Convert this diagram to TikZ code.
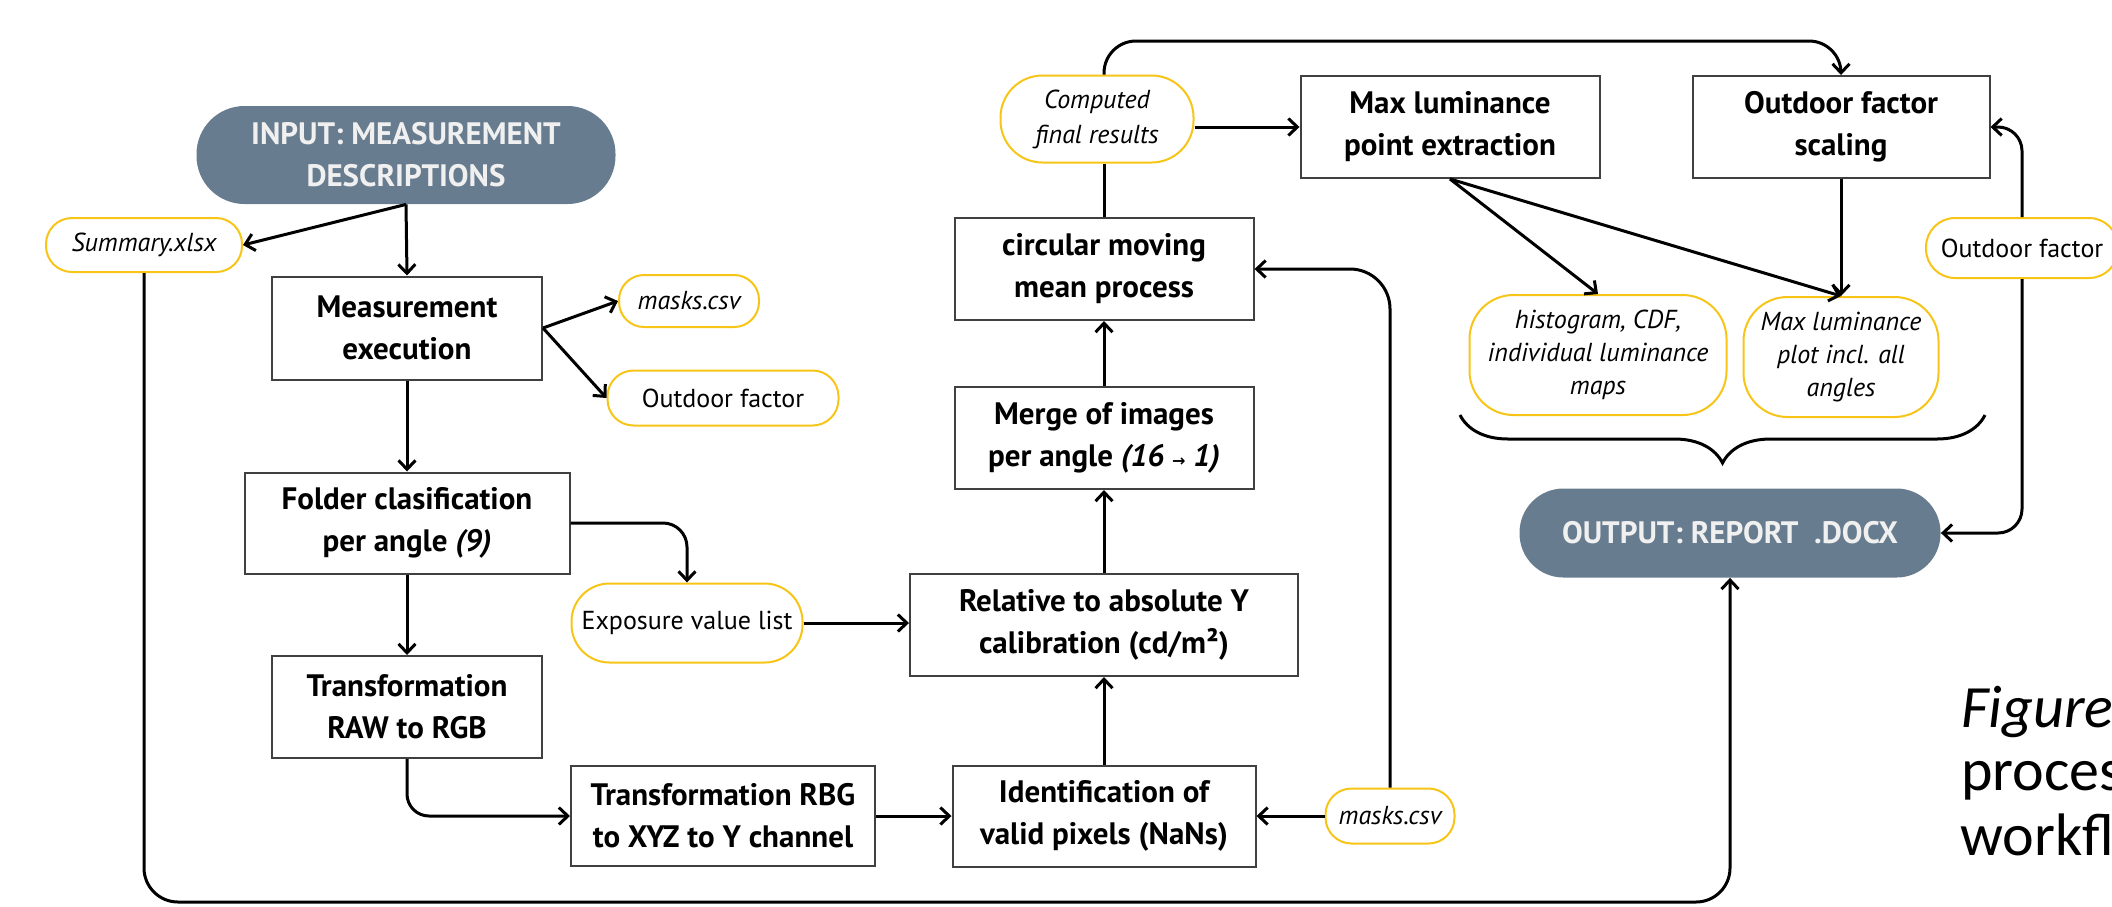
\documentclass[tikz,border=0pt]{standalone}
\usepackage{fontspec}
\setmainfont{PT Sans}
\newfontfamily\capfont{Carlito}
\newfontfamily\symfont{DejaVu Sans}
\usetikzlibrary{arrows.meta,decorations.pathreplacing,calc}
\definecolor{slate}{RGB}{104,124,143}
\definecolor{gold}{RGB}{247,197,24}
\definecolor{boxline}{RGB}{64,64,64}
\begin{document}
\begin{tikzpicture}[x=0.5pt,y=-0.5pt,
  proc/.style={draw=boxline, line width=1pt, fill=white, align=center, inner sep=0pt,
    font=\fontsize{15.5}{21}\selectfont\bfseries},
  pill/.style={draw=gold, line width=1pt, fill=white, align=center, inner sep=0pt,
    font=\fontsize{13}{16.5}\selectfont\itshape},
  pillr/.style={pill, font=\fontsize{13}{16.5}\selectfont},
  term/.style={fill=slate, text=white!94!black, align=center, inner sep=0pt,
    font=\fontsize{15.5}{21}\selectfont\bfseries},
  conn/.style={line width=1.5pt, -{Straight Barb[length=4.5pt,width=8.5pt]}},
  plainline/.style={line width=1.5pt},
  captext/.style={anchor=base west, inner sep=0pt, font=\capfont\fontsize{30}{32}\selectfont}
]
\useasboundingbox (0,0) rectangle (2112,906);

\node[term, minimum width=209.5pt, minimum height=49pt, rounded corners=24pt] (in) at (406,155) {INPUT: MEASUREMENT\\DESCRIPTIONS};
\node[pill, minimum width=98pt, minimum height=27pt, rounded corners=13pt] (sum) at (144,245) {Summary.xlsx};
\node[proc, minimum width=135pt, minimum height=51.5pt] (meas) at (407,328) {Measurement\\execution};
\node[pill, minimum width=70pt, minimum height=26pt, rounded corners=12.5pt] (mask1) at (689,301) {masks.csv};
\node[pillr, minimum width=115.5pt, minimum height=27.5pt, rounded corners=13pt] (out1) at (723,398) {Outdoor factor};
\node[proc, minimum width=162.5pt, minimum height=50.5pt] (fold) at (407,523) {Folder clasification\\per angle \textit{(9)}};
\node[pillr, minimum width=115.5pt, minimum height=39.5pt, rounded corners=19pt] (expo) at (687,623) {Exposure value list};
\node[proc, minimum width=135pt, minimum height=51pt] (raw) at (407,707) {Transformation\\RAW to RGB};
\node[proc, minimum width=152pt, minimum height=50pt] (rbg) at (723,816) {Transformation RBG\\to XYZ to Y channel};
\node[proc, minimum width=151.5pt, minimum height=50.5pt] (ident) at (1104,816) {Identification of\\valid pixels (NaNs)};
\node[pill, minimum width=64.5pt, minimum height=27.5pt, rounded corners=13pt] (mask2) at (1390,816) {masks.csv};
\node[proc, minimum width=194pt, minimum height=51pt] (rel) at (1104,625) {Relative to absolute Y\\calibration (cd/m²)};
\node[proc, minimum width=149.5pt, minimum height=51pt] (merge) at (1104,438) {Merge of images\\per angle \textit{(16 {\symfont\fontsize{8}{8}\selectfont →} 1)}};
\node[proc, minimum width=149.5pt, minimum height=51pt] (circ) at (1104,269) {circular moving\\mean process};
\node[pill, minimum width=96.5pt, minimum height=43.5pt, rounded corners=21pt, font=\fontsize{13}{17.5}\selectfont\itshape] (comp) at (1097,119) {Computed\\final results};
\node[proc, minimum width=149.5pt, minimum height=51pt] (maxl) at (1450,127) {Max luminance\\point extraction};
\node[proc, minimum width=148.5pt, minimum height=51pt] (osc) at (1841,127) {Outdoor factor\\scaling};
\node[pillr, minimum width=96pt, minimum height=30pt, rounded corners=14.5pt] (out2) at (2022,248) {Outdoor factor};
\node[pill, minimum width=128.5pt, minimum height=60pt, rounded corners=22pt] (hist) at (1598,355) {histogram, CDF,\\individual luminance\\maps};
\node[pill, minimum width=97.5pt, minimum height=60pt, rounded corners=22pt] (mlp) at (1841,357) {Max luminance\\plot incl. all\\angles};
\node[term, minimum width=210.5pt, minimum height=44.5pt, rounded corners=22pt] (outp) at (1730,533) {OUTPUT: REPORT\ \ .DOCX};

\node[captext] (cap1) at (1961,727) {\itshape Figure};
\node[captext] (cap2) at (1961,790) {proces};
\node[captext] (cap3) at (1960,855) {workfl};

\coordinate (bot) at (0,902);
\coordinate (topl) at (1104,41);
\coordinate (brR) at (1985,415);
\coordinate (brL) at (1460,415);

\draw[conn] (in.south) -- (meas.north);
\draw[conn] (in.south) -- (sum.east);
\draw[conn] (meas.east) -- (mask1.west);
\draw[conn] (meas.east) -- (out1.west);
\draw[conn] (meas.south) -- (fold.north);
\draw[conn] (fold.south) -- (raw.north);
\draw[conn, rounded corners=12pt] (fold.east) -| (expo.north);
\draw[conn] (expo.east) -- (expo.east -| rel.west);
\draw[conn, rounded corners=11pt] (raw.south) |- (rbg.west);
\draw[conn] (rbg.east) -- (ident.west);
\draw[conn] (mask2.west) -- (ident.east);
\draw[conn] (ident.north) -- (rel.south);
\draw[conn] (rel.north) -- (merge.south);
\draw[conn] (merge.north) -- (circ.south);
\draw[conn, rounded corners=20pt] (mask2.north) |- (circ.east);
\draw[plainline] (circ.north) -- (circ.north |- comp.south);
\draw[conn] (comp.east |- maxl.west) -- (maxl.west);
\draw[conn, rounded corners=16pt] (topl |- comp.north) -- (topl) -| (osc.north);
\draw[conn] (maxl.south) -- (hist.north);
\draw[conn] (maxl.south) -- (mlp.north);
\draw[conn] (osc.south) -- (mlp.north);
\draw[conn, rounded corners=12pt] (out2.north) |- (osc.east);
\draw[conn, rounded corners=12pt] (out2.south) |- (outp.east);
\draw[conn, rounded corners=17pt] (sum.south) -- (sum.south |- bot) -| (outp.south);
\draw[plainline, decorate, decoration={brace, amplitude=24pt}] (brR) -- (brL);
\end{tikzpicture}
\end{document}
